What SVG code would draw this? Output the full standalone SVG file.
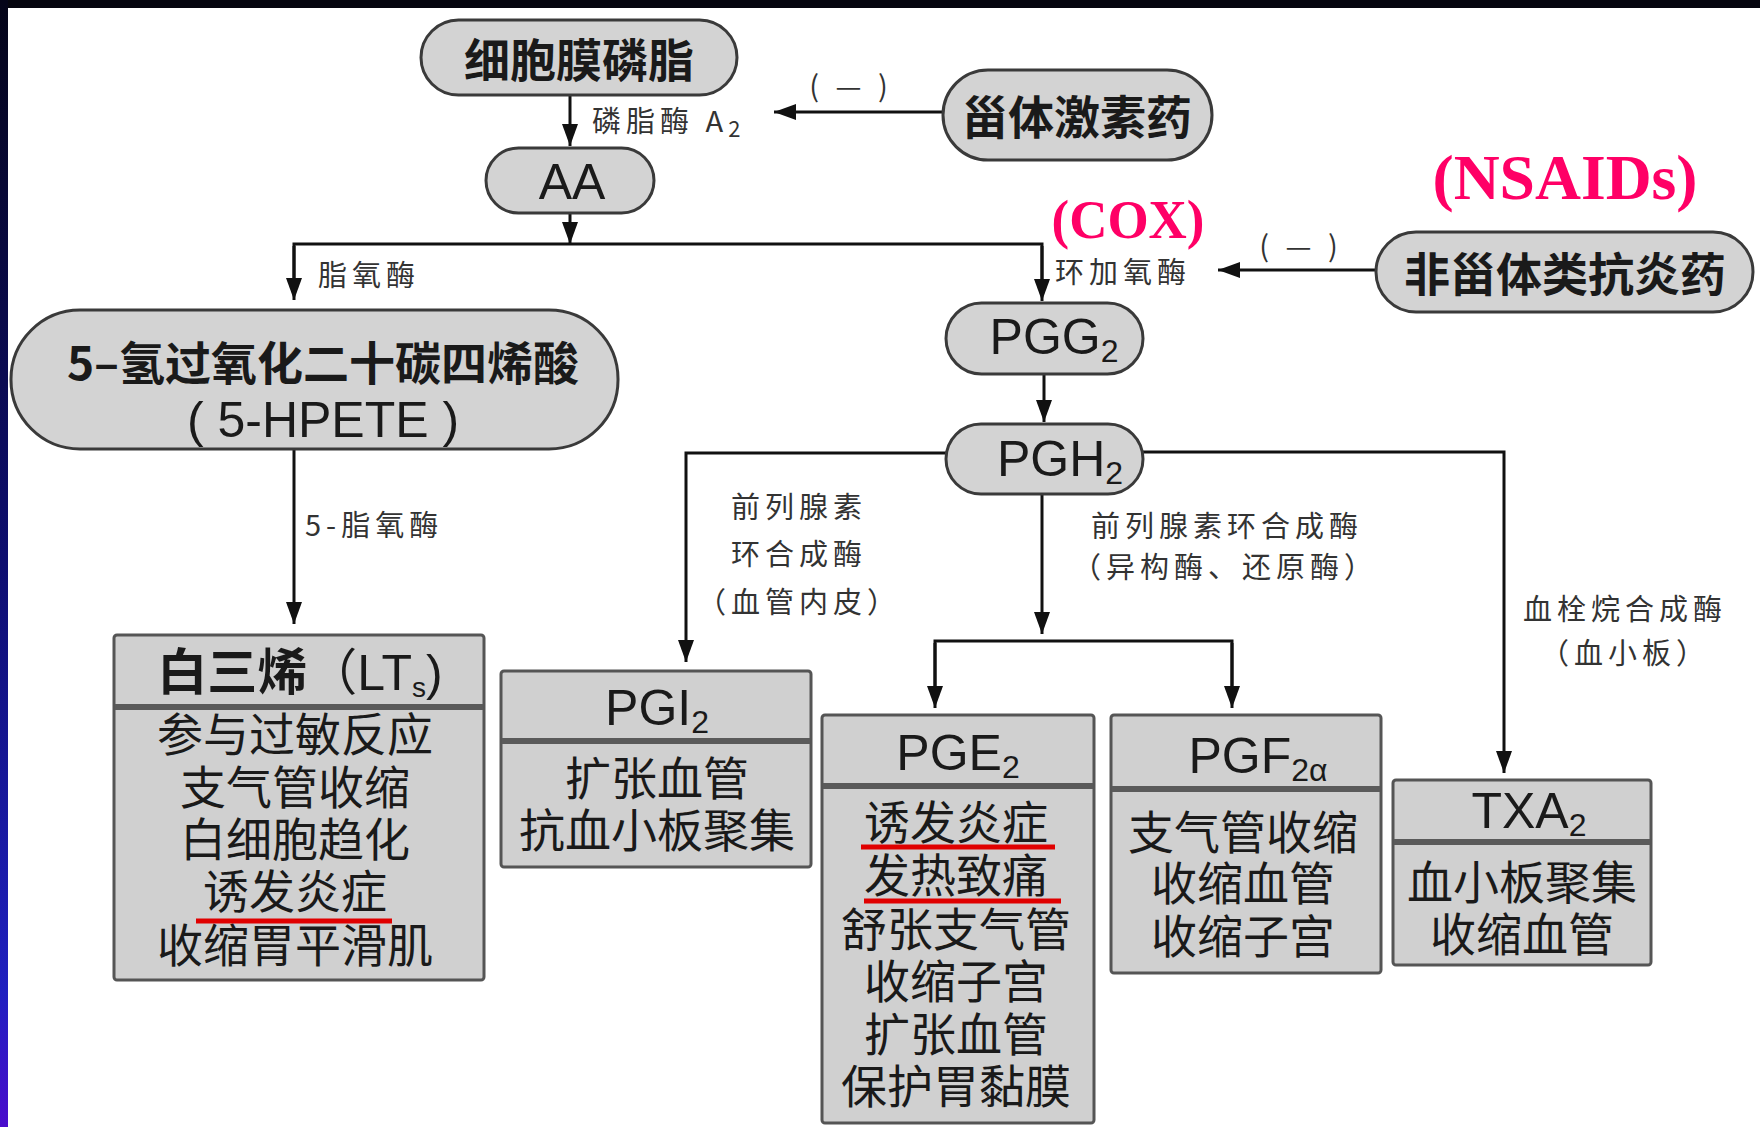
<svg xmlns="http://www.w3.org/2000/svg" width="1760" height="1127" viewBox="0 0 1760 1127">
<defs>
<linearGradient id="lg" x1="0" y1="0" x2="0" y2="1">
<stop offset="0" stop-color="#050518"/>
<stop offset="0.5" stop-color="#0e0e70"/>
<stop offset="0.88" stop-color="#2020c0"/>
<stop offset="1" stop-color="#4a0ccc"/>
</linearGradient>
<marker id="ah" markerUnits="userSpaceOnUse" markerWidth="22" markerHeight="16" viewBox="0 0 22 16" refX="22" refY="8" orient="auto">
<path d="M0,0 L22,8 L0,16 Z" fill="#111"/>
</marker>
</defs>
<style>
.pill{fill:#d3d3d3;stroke:#3a3a3a;stroke-width:3}
.box{fill:#d0d0d0;stroke:#555;stroke-width:3}
.div{stroke:#5a5a5a;stroke-width:6}
.cn{font-family:"Noto Sans CJK SC",sans-serif;fill:#1a1a1a;text-anchor:middle;dominant-baseline:central}
.cb{font-family:"Noto Sans CJK SC",sans-serif;font-weight:bold;fill:#1a1a1a;text-anchor:middle;dominant-baseline:central;font-size:46px}
.en{font-family:"Liberation Sans",Arial,sans-serif;fill:#1a1a1a;text-anchor:middle;font-size:50px}
.lb{font-family:"Noto Sans CJK SC",sans-serif;fill:#333;font-size:29px;letter-spacing:5px;dominant-baseline:central}
.body{font-size:46px}
.mag{font-family:"Liberation Serif","Times New Roman",serif;font-weight:bold;fill:#ff0066;text-anchor:middle}
.ln{fill:none;stroke:#111;stroke-width:3}
.red{stroke:#e00000;stroke-width:5}
</style>
<rect x="0" y="0" width="1760" height="1127" fill="#ffffff"/>
<rect x="0" y="0" width="1760" height="8" fill="#06060f"/>
<rect x="0" y="0" width="8" height="1127" fill="url(#lg)"/>

<g id="connectors">
<line class="ln" x1="570" y1="95" x2="570" y2="146" marker-end="url(#ah)"/>
<line class="ln" x1="943" y1="112" x2="774" y2="112" marker-end="url(#ah)"/>
<line class="ln" x1="570" y1="213" x2="570" y2="244" marker-end="url(#ah)"/>
<polyline class="ln" points="294,290 294,244 1042,244 1042,290"/>
<line class="ln" x1="294" y1="246" x2="294" y2="300" marker-end="url(#ah)"/>
<line class="ln" x1="1042" y1="246" x2="1042" y2="301" marker-end="url(#ah)"/>
<line class="ln" x1="1376" y1="270" x2="1218" y2="270" marker-end="url(#ah)"/>
<line class="ln" x1="294" y1="449" x2="294" y2="624" marker-end="url(#ah)"/>
<line class="ln" x1="1044" y1="374" x2="1044" y2="422" marker-end="url(#ah)"/>
<polyline class="ln" points="946,453 686,453 686,662" marker-end="url(#ah)"/>
<line class="ln" x1="1042" y1="494" x2="1042" y2="634" marker-end="url(#ah)"/>
<polyline class="ln" points="935,700 935,641 1232,641 1232,700"/>
<line class="ln" x1="935" y1="643" x2="935" y2="708" marker-end="url(#ah)"/>
<line class="ln" x1="1232" y1="643" x2="1232" y2="708" marker-end="url(#ah)"/>
<polyline class="ln" points="1143,452 1504,452 1504,773" marker-end="url(#ah)"/>
<text class="lb" x="592" y="119">磷脂酶 A<tspan font-size="22" dy="8">2</tspan></text>
<text class="lb" x="851" y="84" text-anchor="middle">( — )</text>
<text class="lb" x="318" y="273">脂氧酶</text>
<text class="lb" x="1055" y="270">环加氧酶</text>
<text class="lb" x="1301" y="244" text-anchor="middle">( — )</text>
<text class="lb" x="305" y="523">5-脂氧酶</text>
<text class="lb" x="799" y="505" text-anchor="middle">前列腺素</text>
<text class="lb" x="799" y="552" text-anchor="middle">环合成酶</text>
<text class="lb" x="799" y="600" text-anchor="middle">（血管内皮）</text>
<text class="lb" x="1227" y="524" text-anchor="middle">前列腺素环合成酶</text>
<text class="lb" x="1225" y="565" text-anchor="middle">（异构酶、还原酶）</text>
<text class="lb" x="1625" y="607" text-anchor="middle">血栓烷合成酶</text>
<text class="lb" x="1625" y="651" text-anchor="middle">（血小板）</text>
<text class="mag" x="1128" y="238" font-size="55" textLength="153" lengthAdjust="spacingAndGlyphs">(COX)</text>
<text class="mag" x="1565" y="199" font-size="64" textLength="265" lengthAdjust="spacingAndGlyphs">(NSAIDs)</text>
</g>

<g id="n-membrane">
<rect class="pill" x="421" y="20" width="316" height="75" rx="37.5"/>
<text class="cb" x="579" y="57">细胞膜磷脂</text>
</g>
<g id="n-steroid">
<rect class="pill" x="943" y="70" width="269" height="90" rx="45"/>
<text class="cb" x="1077" y="114">甾体激素药</text>
</g>
<g id="n-aa">
<rect class="pill" x="486" y="148" width="168" height="65" rx="32.5"/>
<text class="en" x="572" y="199">AA</text>
</g>
<g id="n-nsaid">
<rect class="pill" x="1376" y="232" width="377" height="80" rx="40"/>
<text class="cb" x="1565" y="271">非甾体类抗炎药</text>
</g>
<g id="n-hpete">
<rect class="pill" x="11" y="310" width="607" height="139" rx="69"/>
<text class="cb" x="323" y="360" font-size="47">5–氢过氧化二十碳四烯酸</text>
<text class="en" x="323" y="437" font-size="48">( 5-HPETE )</text>
</g>
<g id="n-pgg2">
<rect class="pill" x="946" y="303" width="197" height="71" rx="35.5"/>
<text class="en" x="1054" y="354">PGG<tspan font-size="32" dy="8">2</tspan></text>
</g>
<g id="n-pgh2">
<rect class="pill" x="946" y="424" width="197" height="70" rx="35"/>
<text class="en" x="1060" y="476">PGH<tspan font-size="32" dy="8">2</tspan></text>
</g>

<g id="n-lts">
<rect class="box" x="114" y="635" width="370" height="345" rx="3"/>
<line class="div" x1="115" y1="707" x2="483" y2="707"/>
<text class="en" x="300" y="690" font-size="46"><tspan font-family="Noto Sans CJK SC" font-weight="bold">白三烯</tspan><tspan font-family="Noto Sans CJK SC">（</tspan>LT<tspan font-size="28" dy="7">s</tspan><tspan dy="-7">)</tspan></text>
<text class="cn body" x="295" y="731">参与过敏反应</text>
<text class="cn body" x="295" y="784">支气管收缩</text>
<text class="cn body" x="295" y="836">白细胞趋化</text>
<text class="cn body" x="295" y="888">诱发炎症</text>
<text class="cn body" x="295" y="942">收缩胃平滑肌</text>
<line class="red" x1="196" y1="921" x2="392" y2="921"/>
</g>
<g id="n-pgi2">
<rect class="box" x="501" y="671" width="310" height="196" rx="3"/>
<line class="div" x1="502" y1="741" x2="810" y2="741"/>
<text class="en" x="657" y="725">PGI<tspan font-size="32" dy="8">2</tspan></text>
<text class="cn body" x="657" y="775">扩张血管</text>
<text class="cn body" x="657" y="827">抗血小板聚集</text>
</g>
<g id="n-pge2">
<rect class="box" x="822" y="715" width="272" height="408" rx="3"/>
<line class="div" x1="823" y1="786" x2="1093" y2="786"/>
<text class="en" x="958" y="770">PGE<tspan font-size="32" dy="8">2</tspan></text>
<text class="cn body" x="956" y="819">诱发炎症</text>
<text class="cn body" x="956" y="872">发热致痛</text>
<text class="cn body" x="956" y="926">舒张支气管</text>
<text class="cn body" x="956" y="978">收缩子宫</text>
<text class="cn body" x="956" y="1031">扩张血管</text>
<text class="cn body" x="956" y="1083">保护胃黏膜</text>
<line class="red" x1="861" y1="847" x2="1055" y2="847"/>
<line class="red" x1="864" y1="901" x2="1061" y2="901"/>
</g>
<g id="n-pgf2a">
<rect class="box" x="1111" y="715" width="270" height="258" rx="3"/>
<line class="div" x1="1112" y1="789" x2="1380" y2="789"/>
<text class="en" x="1258" y="773">PGF<tspan font-size="32" dy="8">2α</tspan></text>
<text class="cn body" x="1243" y="829">支气管收缩</text>
<text class="cn body" x="1243" y="880">收缩血管</text>
<text class="cn body" x="1243" y="933">收缩子宫</text>
</g>
<g id="n-txa2">
<rect class="box" x="1393" y="780" width="258" height="185" rx="3"/>
<line class="div" x1="1394" y1="842" x2="1650" y2="842"/>
<text class="en" x="1529" y="828">TXA<tspan font-size="32" dy="8">2</tspan></text>
<text class="cn body" x="1522" y="879">血小板聚集</text>
<text class="cn body" x="1522" y="931">收缩血管</text>
</g>
</svg>
